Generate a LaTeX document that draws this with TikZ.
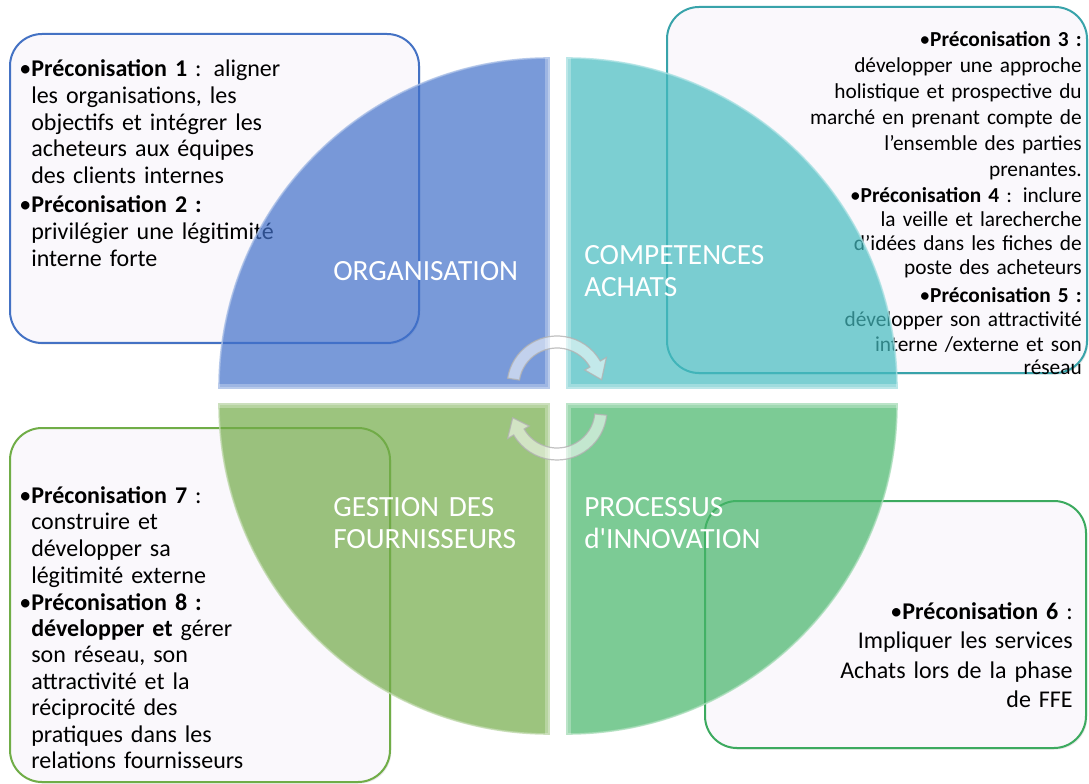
\documentclass[tikz,border=0pt]{standalone}
\usepackage{fontspec}
\setmainfont{Carlito}
\usetikzlibrary{calc,shadows}
\definecolor{boxfill}{RGB}{250,248,252}
\definecolor{bblue}{RGB}{68,114,196}
\definecolor{bteal}{RGB}{56,163,170}
\definecolor{bgreen}{RGB}{112,173,71}
\definecolor{bemer}{RGB}{60,170,95}
\definecolor{qblue}{RGB}{65,112,202}
\definecolor{qteal}{RGB}{69,188,192}
\definecolor{qgreen}{RGB}{114,171,72}
\definecolor{qemer}{RGB}{69,181,104}
\begin{document}
\begin{tikzpicture}[x=0.75pt,y=-0.75pt,
  box/.style={fill=boxfill, draw=#1, line width=1.5pt, rounded corners=24pt,
    drop shadow={shadow xshift=1pt, shadow yshift=-1.2pt, opacity=0.18}},
  quad/.style={fill=#1, fill opacity=0.7, draw=#1!45!white, draw opacity=0.8, line width=1.2pt},
  bevel/.style={draw=white, draw opacity=0.28, line width=6pt},
  ltxt/.style={inner sep=0pt, anchor=base west, text width=270pt, align=left},
  rtxt/.style={inner sep=0pt, anchor=base east, text width=270pt, align=right},
  qlabel/.style={inner sep=0pt, anchor=base west, text=white, text width=170pt, align=left,
    font=\fontsize{22}{24}\selectfont},
  cyc/.style={fill=white, fill opacity=0.55, draw=gray!60, draw opacity=0.8, line width=0.9pt}
]
\useasboundingbox (0,0) rectangle (1089,784);
\fill[white] (0,0) rectangle (1089,784);

% ---- boxes ----
\draw[box=bblue] (10,34) rectangle (419,343);
\draw[box=bteal] (667,7) rectangle (1087,373);
\draw[box=bgreen] (10,428) rectangle (390,782);
\draw[box=bemer] (705,501) rectangle (1086,748);

% ---- box texts ----
\node[ltxt, font=\fontsize{18}{19.9}\selectfont] (p1) at (31,77)
  {\llap{•}\textbf{Préconisation 1} : aligner\\les organisations, les\\objectifs et intégrer les\\acheteurs aux équipes\\des clients internes};
\node[ltxt, font=\fontsize{18}{19.9}\selectfont] (p2) at (31,213)
  {\llap{•}\textbf{Préconisation 2 :}\\privilégier une légitimité\\interne forte};

\node[rtxt, font=\fontsize{16}{19.5}\selectfont] (p3) at (1082,47)
  {•\textbf{Préconisation 3 :}\\développer une approche\\holistique et prospective du\\marché en prenant compte de\\l’ensemble des parties\\prenantes.};
\node[rtxt, font=\fontsize{16}{18}\selectfont] (p4) at (1082,203)
  {•\textbf{Préconisation 4} : inclure\\la veille et larecherche\\d’idées dans les fiches de\\poste des acheteurs};
\node[rtxt, font=\fontsize{16}{18}\selectfont] (p5) at (1082,303)
  {•\textbf{Préconisation 5 :}\\développer son attractivité\\interne /externe et son\\réseau};

\node[ltxt, font=\fontsize{18}{20.2}\selectfont] (p7) at (31,503)
  {\llap{•}\textbf{Préconisation 7} :\\construire et\\développer sa\\légitimité externe};
\node[ltxt, font=\fontsize{18}{19.8}\selectfont] (p8) at (31,610)
  {\llap{•}\textbf{Préconisation 8 :}\\\textbf{développer et} gérer\\son réseau, son\\attractivité et la\\réciprocité des\\pratiques dans les\\relations fournisseurs};

\node[rtxt, font=\fontsize{18}{22.2}\selectfont] (p6) at (1073,619)
  {•\textbf{Préconisation 6} :\\Impliquer les services\\Achats lors de la phase\\de FFE};

% ---- quadrants ----
\path[quad=qblue]  (549,388) -- (219,388) arc[start angle=180, end angle=270, radius=330] -- cycle;
\path[quad=qteal]  (567,388) -- (567,58) arc[start angle=270, end angle=360, radius=330] -- cycle;
\path[quad=qgreen] (549,404) -- (549,734) arc[start angle=90, end angle=180, radius=330] -- cycle;
\path[quad=qemer]  (567,404) -- (897,404) arc[start angle=0, end angle=90, radius=330] -- cycle;

% ---- bevel highlights on the straight edges ----
\begin{scope}
  \clip (549,388) -- (219,388) arc[start angle=180, end angle=270, radius=330] -- cycle;
  \path[bevel] (219,388) -- (549,388) -- (549,58);
\end{scope}
\begin{scope}
  \clip (567,388) -- (567,58) arc[start angle=270, end angle=360, radius=330] -- cycle;
  \path[bevel] (567,58) -- (567,388) -- (897,388);
\end{scope}
\begin{scope}
  \clip (549,404) -- (549,734) arc[start angle=90, end angle=180, radius=330] -- cycle;
  \path[bevel] (219,404) -- (549,404) -- (549,734);
\end{scope}
\begin{scope}
  \clip (567,404) -- (897,404) arc[start angle=0, end angle=90, radius=330] -- cycle;
  \path[bevel] (897,404) -- (567,404) -- (567,734);
\end{scope}

% ---- quadrant labels ----
\node[qlabel] (qorg) at (333,281) {ORGANISATION};
\node[qlabel] (qcomp) at (584,265) {COMPETENCES\\ACHATS};
\node[qlabel] (qgest) at (333,516) {GESTION DES\\FOURNISSEURS};
\node[qlabel] (qproc) at (584,516) {PROCESSUS\\d\textquotesingle INNOVATION};

% ---- cycle arrows ----
\coordinate (ct) at (557,386);
\coordinate (cb) at (557,410);
\path[cyc] ($(ct)+(-171:50)$) arc[start angle=-171, end angle=-30, radius=50]
  -- ($(ct)+(-30:57)$) -- ($(ct)+(-8:45)$) -- ($(ct)+(-30:32)$) -- ($(ct)+(-30:38)$)
  arc[start angle=-30, end angle=-171, radius=38] -- cycle;
\path[cyc] ($(cb)+(6:50)$) arc[start angle=6, end angle=150, radius=50]
  -- ($(cb)+(150:57)$) -- ($(cb)+(170:45)$) -- ($(cb)+(150:32)$) -- ($(cb)+(150:38)$)
  arc[start angle=150, end angle=6, radius=38] -- cycle;
\end{tikzpicture}
\end{document}
